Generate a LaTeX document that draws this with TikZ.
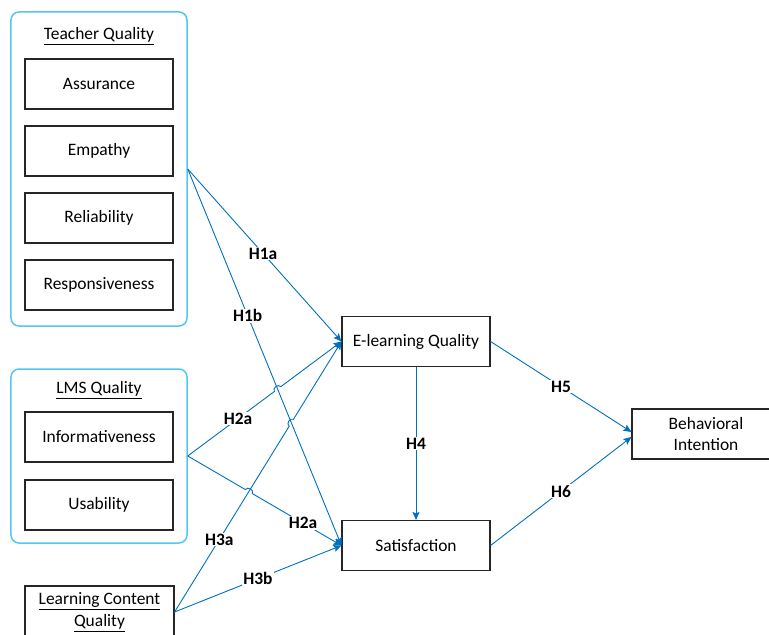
\documentclass[tikz,border=0pt]{standalone}
\usepackage{fontspec}
\setmainfont{Carlito}
\usetikzlibrary{calc,arrows.meta,intersections}
\definecolor{linkblue}{RGB}{0,112,192}
\definecolor{groupblue}{RGB}{80,200,240}
\newcommand{\mainsize}{\fontsize{17.5}{22}\selectfont}
\tikzset{
	node distance=67bp,
	>={Stealth[length=8bp,width=7bp,inset=1.5bp]},
	box/.style={
		rectangle,
		draw=black!85,
		line width=1.1bp,
		minimum width=148bp,
		minimum height=50bp,
		align=center,
		font=\mainsize
	},
	group/.style={
		rectangle,
		draw=groupblue,
		line width=1.5bp,
		rounded corners=8bp
	},
	link/.style={->, draw=linkblue, line width=0.9bp},
	hyp/.style={fill=white, inner sep=1bp, font=\mainsize\bfseries}
}

\begin{document}
\begin{tikzpicture}[x=1bp, y=1bp]
		\useasboundingbox (0,0) rectangle (769,-635);

		\node [group, minimum width=176bp, minimum height=314bp] (teacher) at (99,-169) {};
		\node [font=\mainsize] (teacher-title) at (99,-36) {\underline{Teacher Quality}};
		\node [box] (assurance) at (99,-84) {Assurance};
		\node [box, below of=assurance] (empathy) {Empathy};
		\node [box, below of=empathy] (reliability) {Reliability};
		\node [box, below of=reliability] (responsiveness) {Responsiveness};

		\node [group, minimum width=176bp, minimum height=174bp] (lms) at (99,-456) {};
		\node [font=\mainsize] (lms-title) at (99,-390) {\underline{LMS Quality}};
		\node [box] (informativeness) at (99,-437) {Informativeness};
		\node [box, below of=informativeness, node distance=68bp] (usability) {Usability};

		\node [box, minimum height=52bp, minimum width=149bp] (content) at (99.5,-612) {\underline{Learning Content}\\\underline{Quality}};

		\node [box] (elq) at (416,-341.5) {E-learning Quality};
		\node [box] (sat) at (416,-545.5) {Satisfaction};
		\node [box] (bi) at (706,-434) {Behavioral\\Intention};

		% crossing points for the line jumps
		\path [name path=p1b] (teacher.east) -- (sat.west);
		\path [name path=p2a] (lms.east) -- (elq.west);
		\path [name path=p2b] (lms.east) -- (sat.west);
		\path [name path=p3a] (content.east) -- (elq.west);
		\path [name intersections={of=p1b and p2a, by=j1}];
		\path [name intersections={of=p1b and p3a, by=j2}];
		\path [name intersections={of=p2b and p3a, by=j3}];

		\draw [link] (teacher.east) -- node [hyp, pos=0.49] {H1a} (elq.west);
		\draw [link] (teacher.east) -- node [hyp, pos=0.39] {H1b} (sat.west);

		\draw [link] (lms.east) -- node [hyp, pos=0.58] {H2a} ($(j1)!4bp!(lms.east)$)
			to [bend left=90, looseness=1.3] ($(j1)!4bp!(elq.west)$) -- (elq.west);
		\draw [link] (lms.east) -- ($(j3)!4bp!(lms.east)$)
			to [bend left=90, looseness=1.3] ($(j3)!4bp!(sat.west)$) -- node [hyp, pos=0.57] {H2a} (sat.west);

		\draw [link] (content.east) -- node [hyp, pos=0.39] {H3a} ($(j2)!4bp!(content.east)$)
			to [bend left=90, looseness=1.3] ($(j2)!4bp!(elq.west)$) -- (elq.west);
		\draw [link] (content.east) -- node [hyp, pos=0.5] {H3b} (sat.west);

		\draw [link] (elq) -- node [hyp] {H4} (sat);
		\draw [link] (elq.east) -- node [hyp] {H5} ([yshift=2bp]bi.west);
		\draw [link] (sat.east) -- node [hyp] {H6} ([yshift=-3bp]bi.west);
	\end{tikzpicture}
\end{document}
